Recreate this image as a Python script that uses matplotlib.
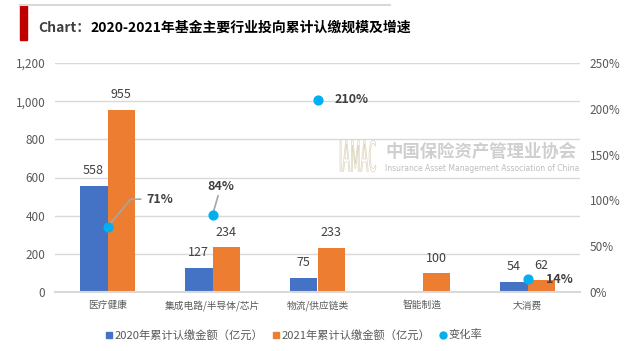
import numpy as np
import matplotlib
matplotlib.use("Agg")
import matplotlib.pyplot as plt
from matplotlib.ticker import FuncFormatter, PercentFormatter
from matplotlib.textpath import TextPath
from matplotlib.patches import PathPatch, Rectangle
from matplotlib.transforms import Affine2D, IdentityTransform
from matplotlib.lines import Line2D

plt.rcParams['font.family'] = ['Noto Sans CJK SC', 'DejaVu Sans']

categories = ["医疗健康", "集成电路/半导体/芯片", "物流/供应链类", "智能制造", "大消费"]
amount_2020 = [558, 127, 75, 0, 54]
amount_2021 = [955, 234, 233, 100, 62]
change_rate = [0.71, 0.84, 2.10, np.nan, 0.14]
label_2020 = ["558", "127", "75", "", "54"]
label_2021 = ["955", "234", "233", "100", "62"]

BLUE = "#4472C4"
ORANGE = "#ED7D31"
DOT = "#00B0F0"
GRID = "#d9d9d9"
TXT = "#595959"

fig = plt.figure(figsize=(6.39, 3.51), dpi=100)
ax = fig.add_axes([55 / 639, 1 - 292 / 351, 525 / 639, 229 / 351])

x = np.arange(len(categories))
w = 0.265
ax.bar(x - w / 2, amount_2020, w, color=BLUE, zorder=2)
ax.bar(x + w / 2, amount_2021, w, color=ORANGE, zorder=2)

for i in range(len(categories)):
    if label_2020[i]:
        ax.annotate(label_2020[i], (x[i] - w / 2, amount_2020[i]), xytext=(0, 6),
                    textcoords="offset points", ha="center", va="bottom",
                    fontsize=9, color="#404040")
    ax.annotate(label_2021[i], (x[i] + w / 2, amount_2021[i]), xytext=(0, 6),
                textcoords="offset points", ha="center", va="bottom",
                fontsize=9, color="#404040")

ax.set_xlim(-0.5, len(categories) - 0.5)
ax.set_ylim(0, 1200)
ax.set_yticks(np.arange(0, 1201, 200))
ax.yaxis.set_major_formatter(FuncFormatter(lambda v, p: f"{int(v):,}"))
ax.set_xticks(x)
ax.set_xticklabels(categories, fontsize=7, color=TXT)
ax.tick_params(axis="y", length=0, pad=7, labelsize=8.5, labelcolor=TXT)
ax.tick_params(axis="x", length=0, pad=6)
ax.grid(axis="y", color=GRID, linewidth=1, zorder=0)
for s in ["top", "right", "left"]:
    ax.spines[s].set_visible(False)
ax.spines["bottom"].set_color(GRID)
ax.spines["bottom"].set_linewidth(1.5)

ax2 = ax.twinx()
ax2.set_ylim(0, 2.5)
ax2.set_yticks(np.arange(0, 2.51, 0.5))
ax2.yaxis.set_major_formatter(PercentFormatter(1.0, decimals=0))
ax2.tick_params(axis="y", length=0, pad=7, labelsize=8.5, labelcolor=TXT)
for s in ax2.spines.values():
    s.set_visible(False)
ax2.scatter(x, change_rate, s=40, color=DOT, zorder=5)

lab_kw = dict(fontsize=9, fontweight="bold", color="#404040", textcoords="offset points")
# 71% with leader line
ax2.annotate("71%", (x[0], change_rate[0]), xytext=(28, 20), ha="left", va="center",
             arrowprops=dict(arrowstyle="-", color="#a6a6a6", lw=1.2,
                             connectionstyle="angle,angleA=0,angleB=50,rad=0",
                             shrinkA=2, shrinkB=0), **lab_kw)
ax2.annotate("84%", (x[1], change_rate[1]), xytext=(6, 16), ha="center", va="bottom",
             arrowprops=dict(arrowstyle="-", color="#a6a6a6", lw=1.2, shrinkA=0, shrinkB=2),
             **lab_kw)
ax2.annotate("210%", (x[2], change_rate[2]), xytext=(12, 0), ha="left", va="center", **lab_kw)
ax2.annotate("14%", (x[4], change_rate[4]), xytext=(13, 0), ha="left", va="center", **lab_kw)

# watermark
fig.text(385 / 639, 1 - 152 / 351, "中国保险资产管理业协会", fontsize=12.5, fontweight="bold",
         color="#cfcfcf", ha="left", va="center", zorder=0)
fig.text(385 / 639, 1 - 168 / 351, "Insurance Asset Management Association of China",
         fontsize=5.5, color="#bdbdbd", ha="left", va="center", zorder=0,
         family="DejaVu Sans")
tp = TextPath((0, 0), "IAMAC", size=10)
ext = tp.get_extents()
tr = Affine2D().translate(-ext.x0, -ext.y0).scale(36 / ext.width, 32 / ext.height) \
    .translate(340, 351 - 172)
fig.patches.append(PathPatch(tr.transform_path(tp), transform=IdentityTransform(),
                             facecolor="none", edgecolor="#ddd5bd", lw=0.5, figure=fig))

# title block
fig.patches.append(Rectangle((20 / 639, 1 - 40 / 351), 7 / 639, 35 / 351,
                             transform=fig.transFigure, color="#C00000", figure=fig))
fig.lines.append(Line2D([20 / 639, 390 / 639], [1 - 5 / 351, 1 - 5 / 351],
                        transform=fig.transFigure, color="#d9d9d9", lw=1.5, figure=fig))
t1 = fig.text(38 / 639, 1 - 28 / 351, "Chart：", fontsize=10, fontweight="bold",
              color="#404040", ha="left", va="center")
fig.canvas.draw()
bb = t1.get_window_extent()
fig.text(bb.x1 / 639, 1 - 28 / 351, "2020-2021年基金主要行业投向累计认缴规模及增速",
         fontsize=10, fontweight="bold", color="black", ha="left", va="center")

handles = [
    Line2D([], [], marker="s", linestyle="none", color=BLUE, markersize=5),
    Line2D([], [], marker="s", linestyle="none", color=ORANGE, markersize=5),
    Line2D([], [], marker="o", linestyle="none", color=DOT, markersize=5),
]
fig.legend(handles, ["2020年累计认缴金额（亿元）", "2021年累计认缴金额（亿元）", "变化率"],
           loc="center", bbox_to_anchor=(293 / 639, 1 - 335 / 351), ncol=3, frameon=False,
           fontsize=8.1, labelcolor=TXT, handletextpad=0.0, columnspacing=0.6,
           handlelength=1.0)

fig.savefig("out.png", dpi=100)
